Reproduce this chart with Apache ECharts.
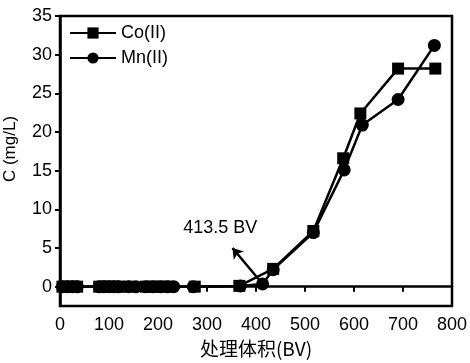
<!DOCTYPE html>
<html>
<head>
<meta charset="utf-8">
<script src="https://cdn.jsdelivr.net/npm/echarts@6/dist/echarts.min.js"></script>
<style>html,body{margin:0;padding:0;background:#fff}#c{width:470px;height:363px}</style>
</head>
<body>
<div id="c"></div>
<script>
const coX = [5, 15, 25, 35, 80, 90, 100, 110, 120, 140, 175, 190, 205, 220, 275, 366, 435, 517, 578, 613, 690, 766];
const coY = [0, 0, 0, 0, 0, 0, 0, 0, 0, 0, 0, 0, 0, 0, 0, 0.1, 2.3, 7.2, 16.6, 22.4, 28.2, 28.2];
const mnX = [5, 15, 25, 35, 80, 90, 100, 110, 120, 140, 155, 175, 190, 205, 220, 232, 272, 368, 413.5, 435, 517, 580, 617, 690, 764];
const mnY = [0, 0, 0, 0, 0, 0, 0, 0, 0, 0, 0, 0, 0, 0, 0, 0, 0, 0.1, 0.35, 2.2, 7.0, 15.1, 20.9, 24.2, 31.2];
const xTicks = [0, 100, 200, 300, 400, 500, 600, 700, 800];
const yTicks = [0, 5, 10, 15, 20, 25, 30, 35];
const seriesNames = ['Co(II)', 'Mn(II)'];
const annotText = '413.5 BV';
const annotFrom = [413.5, 0.35];
const annotTo = [352, 5.0];
const annotLabelAt = [327, 7.6];

const font = 'Arial, "Liberation Sans", sans-serif';
const chart = echarts.init(document.getElementById('c'));
const pairs = (xs, ys) => xs.map((x, i) => [x, ys[i]]);

chart.setOption({
  animation: false,
  backgroundColor: '#fff',
  grid: { left: 60, right: 18, top: 16, bottom: 57, containLabel: false, outerBoundsMode: 'none', show: true, borderColor: '#000', borderWidth: 2.5, backgroundColor: 'transparent' },
  legend: {
    orient: 'vertical', left: 64, top: 19, itemWidth: 46, itemHeight: 14, itemGap: 7,
    textStyle: { fontFamily: font, fontSize: 18, color: '#000' },
    data: seriesNames
  },
  xAxis: {
    type: 'value', min: xTicks[0], max: xTicks[xTicks.length - 1], interval: 100,
    name: '处理体积(BV)', nameLocation: 'middle', nameGap: 31,
    nameTextStyle: { fontFamily: '"Noto Sans CJK SC", Arial, sans-serif', fontSize: 19, color: '#000' },
    axisLine: { lineStyle: { color: '#000', width: 2.5 } },
    axisTick: { inside: false, length: 5, lineStyle: { color: '#000', width: 2 } },
    axisLabel: { fontFamily: font, fontSize: 18, color: '#000', margin: 10 },
    splitLine: { show: false }
  },
  yAxis: {
    type: 'value', min: -2.5, max: 35,
    name: 'C (mg/L)', nameLocation: 'middle', nameGap: 41,
    nameTextStyle: { fontFamily: font, fontSize: 17, color: '#000', padding: [0, 0, 0, 24] },
    axisLine: { onZero: false, lineStyle: { color: '#000', width: 2.5 } },
    axisTick: { inside: false, length: 5, customValues: yTicks, lineStyle: { color: '#000', width: 2 } },
    axisLabel: { fontFamily: font, fontSize: 18, color: '#000', margin: 8, customValues: yTicks },
    splitLine: { show: false }
  },
  series: [
    {
      name: seriesNames[0], type: 'line', data: pairs(coX, coY),
      symbol: 'rect', symbolSize: 12,
      lineStyle: { color: '#000', width: 2.5 }, itemStyle: { color: '#000' }
    },
    {
      name: seriesNames[1], type: 'line', data: pairs(mnX, mnY),
      symbol: 'circle', symbolSize: 13,
      lineStyle: { color: '#000', width: 2.5 }, itemStyle: { color: '#000' },
      markLine: {
        silent: true, symbol: ['none', 'arrow'], symbolSize: 10,
        lineStyle: { color: '#000', width: 2.5, type: 'solid' },
        label: { show: false },
        data: [[{ coord: annotFrom }, { coord: annotTo }]]
      },
      markPoint: {
        silent: true, symbol: 'circle', symbolSize: 0,
        label: { show: true, formatter: annotText, fontFamily: font, fontSize: 18, color: '#000', position: 'inside' },
        data: [{ coord: annotLabelAt }]
      }
    }
  ]
});
</script>
</body>
</html>
